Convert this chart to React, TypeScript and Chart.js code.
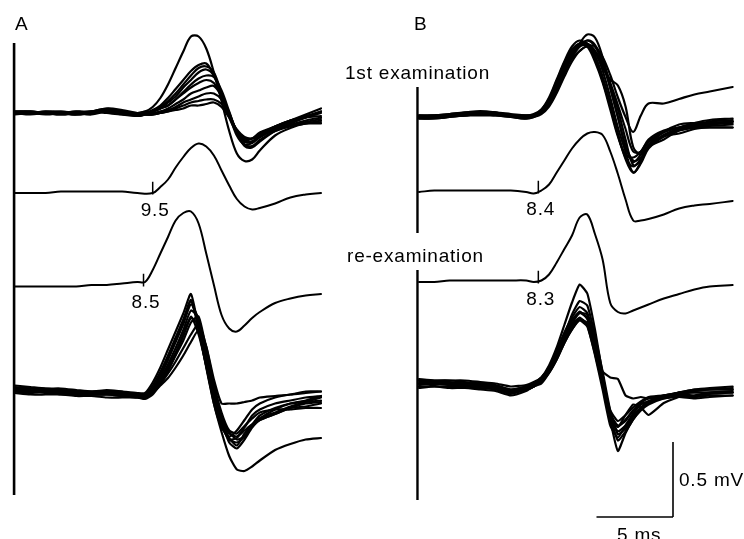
import React, { useEffect, useRef } from "react";
import { Chart, registerables } from "chart.js";

Chart.register(...registerables);

// ---------- canvas / calibration (layout) ----------
const W = 744;
const H = 539;
const PX_PER_MS = 15.3; // 5 ms scale bar ≈ 76 px
const PX_PER_MV = 150; // 0.5 mV scale bar ≈ 75 px

// ---------- time bases (ms from sweep start) ----------
const T_A = [0, 1, 2, 3, 4, 5, 6, 7, 8, 8.5, 9, 9.5, 10, 10.5, 11, 11.5, 12, 12.5, 13, 13.5, 14, 14.5, 15, 15.5, 16, 17, 18, 19, 20];
const T_A_AVG1 = [0, 1, 2, 3, 4, 5, 6, 7, 8, 9, 9.5, 10, 10.5, 11, 11.5, 12, 12.5, 13, 13.5, 14, 14.5, 15, 15.5, 16, 17, 18, 19, 20];
const T_B = [0, 1, 2, 3, 4, 5, 6, 7, 7.5, 8, 8.5, 9, 9.5, 10, 10.5, 11, 11.5, 12, 12.5, 13, 13.5, 14, 14.5, 15, 16, 17, 18, 19, 20.5];

// ---------- Panel A: superimposed sweeps, 1st examination (mV) ----------
const A_FIRST_SWEEPS = [
  [0.01, 0.01, 0, 0, 0.01, 0.01, 0.02, 0.01, 0, 0.01, 0.04, 0.10, 0.19, 0.30, 0.41, 0.51, 0.51, 0.43, 0.27, 0.08, -0.12, -0.27, -0.32, -0.31, -0.25, -0.15, -0.10, -0.07, -0.06],
  [0, 0.01, 0, -0.01, 0, 0.01, 0.03, 0.01, -0.01, 0, 0.02, 0.05, 0.10, 0.16, 0.22, 0.28, 0.32, 0.33, 0.25, 0.11, -0.03, -0.13, -0.18, -0.17, -0.13, -0.09, -0.05, -0.01, 0.03],
  [0.01, 0, 0.01, 0, -0.01, 0.01, 0.03, 0.02, 0, 0.01, 0.01, 0.04, 0.08, 0.13, 0.19, 0.25, 0.30, 0.31, 0.27, 0.13, -0.01, -0.15, -0.21, -0.20, -0.16, -0.11, -0.07, -0.03, 0.01],
  [0, 0, -0.01, 0, 0.01, 0, 0.02, 0.01, -0.01, 0, 0.01, 0.03, 0.07, 0.11, 0.17, 0.22, 0.27, 0.29, 0.25, 0.13, 0, -0.12, -0.19, -0.19, -0.15, -0.10, -0.06, -0.03, 0],
  [-0.01, 0, 0.01, 0.01, 0, -0.01, 0.01, 0, -0.02, -0.01, 0.01, 0.03, 0.05, 0.09, 0.14, 0.19, 0.23, 0.25, 0.24, 0.15, 0.01, -0.13, -0.22, -0.23, -0.19, -0.12, -0.08, -0.05, -0.03],
  [0.01, 0.01, 0, -0.01, 0, 0.01, 0.01, 0.01, -0.01, 0, 0.01, 0.03, 0.05, 0.09, 0.13, 0.17, 0.20, 0.22, 0.20, 0.11, -0.02, -0.12, -0.17, -0.17, -0.14, -0.09, -0.05, -0.02, 0.01],
  [0, -0.01, 0, 0, 0.01, 0, 0.01, -0.01, -0.02, -0.01, 0, 0.01, 0.03, 0.06, 0.09, 0.13, 0.15, 0.17, 0.18, 0.11, -0.01, -0.13, -0.19, -0.19, -0.16, -0.11, -0.08, -0.06, -0.04],
  [0, 0, 0.01, 0, -0.01, 0, 0.01, 0, -0.01, -0.01, -0.01, 0.01, 0.02, 0.04, 0.07, 0.09, 0.11, 0.13, 0.13, 0.09, 0, -0.13, -0.21, -0.22, -0.18, -0.12, -0.09, -0.07, -0.05],
  [0.01, 0, 0, 0.01, 0, 0.01, 0, -0.01, -0.01, -0.01, -0.01, 0, 0.01, 0.03, 0.05, 0.07, 0.08, 0.09, 0.09, 0.06, -0.02, -0.12, -0.19, -0.19, -0.16, -0.09, -0.05, -0.03, -0.02],
  [0, 0.01, 0, 0, -0.01, 0, 0.01, 0, -0.01, -0.01, -0.01, 0, 0.01, 0.02, 0.03, 0.05, 0.05, 0.06, 0.07, 0.04, -0.03, -0.11, -0.16, -0.17, -0.15, -0.10, -0.08, -0.07, -0.07],
];

// ---------- Panel A: averaged responses (mV) ----------
const A_AVG_FIRST = [0, 0, 0, 0.01, 0.01, 0.01, 0.01, 0.01, 0, 0, 0.04, 0.09, 0.17, 0.24, 0.30, 0.33, 0.31, 0.25, 0.15, 0.05, -0.04, -0.09, -0.11, -0.10, -0.07, -0.03, -0.01, 0];
const A_AVG_RE = [-0.01, -0.01, -0.01, -0.01, -0.01, 0, 0, 0.01, 0.02, 0.02, 0.10, 0.21, 0.32, 0.43, 0.48, 0.49, 0.41, 0.21, 0, -0.20, -0.29, -0.31, -0.27, -0.22, -0.18, -0.12, -0.09, -0.07, -0.06];

// ---------- Panel A: superimposed sweeps, re-examination (mV) ----------
const A_RE_SWEEPS = [
  [0.03, 0.02, 0.01, 0.01, 0, -0.01, 0, -0.01, -0.02, -0.02, 0.05, 0.15, 0.27, 0.39, 0.51, 0.64, 0.41, 0.15, -0.09, -0.25, -0.31, -0.27, -0.20, -0.13, -0.09, -0.05, -0.03, -0.02, -0.01],
  [0.01, 0.01, 0.01, 0, -0.01, -0.01, -0.01, -0.02, -0.03, -0.03, 0.03, 0.12, 0.23, 0.35, 0.47, 0.60, 0.40, 0.16, -0.07, -0.23, -0.33, -0.32, -0.25, -0.17, -0.13, -0.09, -0.07, -0.05, -0.04],
  [0, -0.01, 0, -0.01, -0.02, -0.01, -0.02, -0.03, -0.03, -0.04, 0.01, 0.09, 0.20, 0.32, 0.44, 0.57, 0.47, 0.20, -0.05, -0.21, -0.35, -0.39, -0.33, -0.25, -0.20, -0.16, -0.12, -0.09, -0.08],
  [-0.01, -0.02, -0.01, -0.03, -0.03, -0.03, -0.03, -0.04, -0.05, -0.05, 0, 0.07, 0.17, 0.28, 0.40, 0.53, 0.48, 0.24, -0.01, -0.19, -0.32, -0.37, -0.29, -0.23, -0.17, -0.12, -0.09, -0.08, -0.07],
  [0.02, 0.01, 0, -0.01, -0.01, -0.02, -0.01, -0.01, -0.03, -0.03, 0, 0.05, 0.13, 0.23, 0.33, 0.45, 0.49, 0.27, 0.01, -0.17, -0.28, -0.33, -0.31, -0.24, -0.19, -0.15, -0.11, -0.08, -0.05],
  [0.01, 0, -0.01, -0.01, -0.02, -0.03, -0.03, -0.03, -0.04, -0.05, -0.01, 0.04, 0.11, 0.19, 0.28, 0.37, 0.44, 0.29, 0.04, -0.15, -0.27, -0.29, -0.24, -0.19, -0.15, -0.13, -0.13, -0.12, -0.12],
  [-0.01, -0.01, -0.02, -0.02, -0.03, -0.03, -0.03, -0.04, -0.05, -0.05, -0.02, 0.03, 0.08, 0.15, 0.23, 0.32, 0.40, 0.29, 0.07, -0.09, -0.09, -0.09, -0.08, -0.07, -0.05, -0.04, -0.03, -0.01, -0.01],
  [0, -0.01, -0.01, -0.02, -0.03, -0.03, -0.02, -0.03, -0.03, -0.04, -0.01, 0.05, 0.15, 0.25, 0.37, 0.49, 0.37, 0.16, -0.09, -0.28, -0.44, -0.53, -0.54, -0.51, -0.47, -0.40, -0.36, -0.33, -0.32],
  [0.01, 0.01, 0, 0, -0.01, -0.02, -0.01, -0.02, -0.03, -0.04, 0.01, 0.10, 0.21, 0.33, 0.45, 0.59, 0.44, 0.19, -0.07, -0.24, -0.33, -0.35, -0.31, -0.24, -0.19, -0.13, -0.09, -0.07, -0.04],
  [-0.02, -0.03, -0.03, -0.03, -0.04, -0.04, -0.05, -0.05, -0.05, -0.06, -0.03, 0.04, 0.13, 0.24, 0.36, 0.48, 0.43, 0.20, -0.04, -0.20, -0.29, -0.31, -0.27, -0.23, -0.20, -0.16, -0.12, -0.11, -0.09],
];

// ---------- Panel B: superimposed sweeps, 1st examination (mV) ----------
const B_FIRST_SWEEPS = [
  [0, 0.01, 0.01, 0.02, 0.03, 0.02, 0.01, 0, 0.01, 0.03, 0.08, 0.19, 0.31, 0.41, 0.49, 0.55, 0.53, 0.40, 0.20, 0, -0.20, -0.30, -0.25, -0.17, -0.10, -0.07, -0.05, -0.03, -0.02],
  [0.01, 0.01, 0.02, 0.03, 0.04, 0.03, 0.01, 0.01, 0.02, 0.05, 0.13, 0.25, 0.37, 0.47, 0.51, 0.48, 0.39, 0.24, 0.07, -0.12, -0.27, -0.33, -0.28, -0.20, -0.12, -0.08, -0.06, -0.05, -0.04],
  [-0.01, -0.01, 0, 0.01, 0.02, 0.01, 0, -0.01, 0.01, 0.04, 0.11, 0.21, 0.33, 0.43, 0.48, 0.49, 0.44, 0.31, 0.13, -0.07, -0.23, -0.37, -0.30, -0.19, -0.10, -0.05, -0.04, -0.04, -0.03],
  [0.01, 0.01, 0.02, 0.03, 0.03, 0.03, 0.01, 0.01, 0.01, 0.03, 0.09, 0.20, 0.32, 0.41, 0.47, 0.48, 0.47, 0.40, 0.28, 0.13, 0, -0.10, 0.01, 0.09, 0.09, 0.12, 0.15, 0.17, 0.20],
  [0, 0, 0.01, 0.02, 0.03, 0.02, 0.01, 0, 0.01, 0.03, 0.08, 0.17, 0.29, 0.39, 0.44, 0.47, 0.43, 0.33, 0.25, 0.21, 0.07, -0.20, -0.25, -0.19, -0.12, -0.08, -0.06, -0.05, -0.03],
  [0.01, 0, 0.01, 0.02, 0.03, 0.03, 0.02, 0.01, 0.01, 0.04, 0.11, 0.23, 0.35, 0.44, 0.49, 0.49, 0.41, 0.27, 0.09, -0.11, -0.28, -0.37, -0.31, -0.21, -0.13, -0.09, -0.07, -0.06, -0.05],
  [-0.01, -0.01, 0, 0.01, 0.01, 0.01, 0, -0.01, 0, 0.02, 0.07, 0.16, 0.27, 0.37, 0.44, 0.47, 0.44, 0.35, 0.21, 0.05, -0.15, -0.32, -0.29, -0.20, -0.13, -0.11, -0.08, -0.07, -0.07],
  [0.01, 0.01, 0.01, 0.03, 0.03, 0.03, 0.01, 0, 0.01, 0.05, 0.12, 0.24, 0.36, 0.45, 0.49, 0.47, 0.37, 0.23, 0.05, -0.13, -0.25, -0.27, -0.23, -0.16, -0.10, -0.07, -0.04, -0.02, -0.01],
  [0, 0.01, 0.01, 0.01, 0.02, 0.02, 0.01, 0.01, 0.01, 0.03, 0.10, 0.20, 0.32, 0.43, 0.48, 0.51, 0.47, 0.36, 0.19, 0, -0.19, -0.29, -0.27, -0.20, -0.15, -0.09, -0.07, -0.07, -0.07],
  [-0.01, 0, 0.01, 0.01, 0.03, 0.02, 0.01, -0.01, 0, 0.03, 0.09, 0.20, 0.31, 0.40, 0.47, 0.51, 0.48, 0.37, 0.23, 0.08, -0.08, -0.23, -0.23, -0.15, -0.09, -0.07, -0.05, -0.04, -0.03],
];

// ---------- Panel B: averaged responses (mV) ----------
const B_AVG_FIRST = [0, 0.01, 0.01, 0.01, 0.01, 0.01, 0.01, 0, -0.01, 0.01, 0.05, 0.13, 0.21, 0.29, 0.35, 0.39, 0.40, 0.38, 0.27, 0.12, -0.05, -0.19, -0.19, -0.18, -0.15, -0.11, -0.09, -0.08, -0.06];
const B_AVG_RE = [0, 0, 0.01, 0.01, 0.01, 0.01, 0.01, 0.01, 0, 0.01, 0.05, 0.13, 0.22, 0.31, 0.43, 0.45, 0.32, 0.15, -0.14, -0.20, -0.21, -0.19, -0.17, -0.15, -0.11, -0.08, -0.05, -0.03, -0.02];

// ---------- Panel B: superimposed sweeps, re-examination (mV) ----------
const B_RE_SWEEPS = [
  [0.03, 0.03, 0.03, 0.02, 0.01, 0, -0.03, -0.01, 0.01, 0.05, 0.13, 0.25, 0.40, 0.55, 0.67, 0.61, 0.37, 0.07, -0.23, -0.44, -0.32, -0.23, -0.17, -0.13, -0.09, -0.07, -0.04, -0.03, -0.02],
  [0.02, 0.02, 0.01, 0.01, 0.01, -0.01, -0.04, -0.02, 0, 0.04, 0.11, 0.21, 0.33, 0.47, 0.56, 0.53, 0.33, 0.09, -0.17, -0.33, -0.29, -0.21, -0.16, -0.12, -0.08, -0.05, -0.04, -0.03, -0.03],
  [0, 0.01, 0, -0.01, -0.01, -0.02, -0.05, -0.03, -0.01, 0.03, 0.09, 0.20, 0.32, 0.43, 0.49, 0.44, 0.24, 0, -0.20, -0.27, -0.24, -0.17, -0.12, -0.09, -0.07, -0.05, -0.05, -0.05, -0.05],
  [-0.02, -0.01, -0.02, -0.02, -0.03, -0.04, -0.07, -0.04, -0.01, 0.01, 0.08, 0.17, 0.28, 0.37, 0.44, 0.41, 0.24, 0.03, -0.17, -0.24, -0.20, -0.15, -0.11, -0.08, -0.07, -0.07, -0.08, -0.07, -0.07],
  [0.04, 0.03, 0.03, 0.03, 0.02, 0.01, -0.01, 0, 0.02, 0.05, 0.11, 0.20, 0.31, 0.40, 0.45, 0.40, 0.20, -0.03, -0.27, -0.35, -0.27, -0.19, -0.13, -0.11, -0.09, -0.08, -0.09, -0.08, -0.07],
  [0.01, 0.01, 0.01, 0.01, 0, -0.01, -0.04, -0.02, 0.01, 0.04, 0.11, 0.21, 0.33, 0.43, 0.48, 0.47, 0.27, 0.09, 0.05, 0.04, -0.07, -0.09, -0.08, -0.09, -0.07, -0.05, -0.03, -0.02, -0.01],
  [0.01, 0, 0.01, 0, -0.01, -0.02, -0.05, -0.03, -0.01, 0.03, 0.09, 0.19, 0.29, 0.39, 0.44, 0.41, 0.24, 0.07, -0.20, -0.28, -0.20, -0.13, -0.15, -0.20, -0.12, -0.08, -0.07, -0.05, -0.05],
  [-0.01, -0.01, -0.01, -0.01, -0.02, -0.03, -0.06, -0.03, -0.01, 0.02, 0.08, 0.17, 0.28, 0.37, 0.43, 0.39, 0.21, 0, -0.19, -0.28, -0.23, -0.17, -0.13, -0.11, -0.08, -0.06, -0.05, -0.05, -0.04],
  [0.03, 0.02, 0.02, 0.01, 0.01, -0.01, -0.03, -0.01, 0.01, 0.05, 0.12, 0.23, 0.35, 0.45, 0.52, 0.48, 0.29, 0.05, -0.20, -0.37, -0.31, -0.23, -0.16, -0.11, -0.08, -0.05, -0.03, -0.03, -0.03],
  [0.01, 0.01, 0, 0, -0.01, -0.02, -0.05, -0.03, 0, 0.03, 0.11, 0.20, 0.31, 0.41, 0.48, 0.45, 0.27, 0.03, -0.21, -0.31, -0.27, -0.20, -0.15, -0.11, -0.07, -0.06, -0.07, -0.06, -0.05],
];

// ---------- onset latencies (label text + tick time in ms on sweep) ----------
const LATENCY_LABELS = ["9.5", "8.5", "8.4", "8.3"];
const LATENCY_TICK_TIMES = [9.0, 8.4, 7.8, 7.8];

// ---------- texts ----------
const PANEL_LABELS = ["A", "B"];
const SESSION_LABELS = ["1st examination", "re-examination"];
const SCALE_LABELS = ["0.5 mV", "5 ms"];
const SCALE_BAR_MS = 5;
const SCALE_BAR_MV = 0.5;

// ---------- layout (positions in chart units) ----------
const X_MAX = W / PX_PER_MS;
const Y_MAX = H / PX_PER_MV;
const pxX = (px: number) => px / PX_PER_MS; // pixel column -> ms on shared axis
const pxY = (px: number) => (H - px) / PX_PER_MV; // pixel row -> mV on shared axis

const ORIGIN_A = pxX(15);
const ORIGIN_B = pxX(419);
const BASE = {
  aFirst: pxY(113),
  aAvgFirst: pxY(193),
  aAvgRe: pxY(285),
  aRe: pxY(390),
  bFirst: pxY(117),
  bAvgFirst: pxY(192),
  bAvgRe: pxY(282),
  bRe: pxY(385),
};

const INK = "#000";

function traceDs(times: number[], vals: number[], x0: number, y0: number, width: number, tension: number) {
  return {
    data: times.map((t, i) => ({ x: x0 + t, y: y0 + vals[i] })),
    borderColor: INK,
    borderWidth: width,
    pointRadius: 0,
    tension,
    fill: false,
    borderCapStyle: "round",
    borderJoinStyle: "round",
  };
}

function segDs(x1: number, y1: number, x2: number, y2: number, width: number) {
  return {
    data: [
      { x: x1, y: y1 },
      { x: x2, y: y2 },
    ],
    borderColor: INK,
    borderWidth: width,
    pointRadius: 0,
    tension: 0,
    fill: false,
    borderCapStyle: "butt",
  };
}

function buildDatasets() {
  const ds: any[] = [];
  // panel axes (vertical rules)
  ds.push(segDs(ORIGIN_A - 0.06, pxY(495), ORIGIN_A - 0.06, pxY(43), 2.6));
  ds.push(segDs(ORIGIN_B - 0.1, pxY(233), ORIGIN_B - 0.1, pxY(87), 2.4));
  ds.push(segDs(ORIGIN_B - 0.1, pxY(500), ORIGIN_B - 0.1, pxY(270), 2.4));

  A_FIRST_SWEEPS.forEach((v) => ds.push(traceDs(T_A, v, ORIGIN_A, BASE.aFirst, 2.2, 0.35)));
  A_RE_SWEEPS.forEach((v) => ds.push(traceDs(T_A, v, ORIGIN_A, BASE.aRe, 2.2, 0.2)));
  ds.push(traceDs(T_A_AVG1, A_AVG_FIRST, ORIGIN_A, BASE.aAvgFirst, 2, 0.4));
  ds.push(traceDs(T_A, A_AVG_RE, ORIGIN_A, BASE.aAvgRe, 2, 0.35));

  B_FIRST_SWEEPS.forEach((v) => ds.push(traceDs(T_B, v, ORIGIN_B, BASE.bFirst, 2.2, 0.35)));
  B_RE_SWEEPS.forEach((v) => ds.push(traceDs(T_B, v, ORIGIN_B, BASE.bRe, 2.2, 0.15)));
  ds.push(traceDs(T_B, B_AVG_FIRST, ORIGIN_B, BASE.bAvgFirst, 2, 0.4));
  ds.push(traceDs(T_B, B_AVG_RE, ORIGIN_B, BASE.bAvgRe, 2, 0.35));

  // onset ticks
  const tickBases = [
    [ORIGIN_A, BASE.aAvgFirst],
    [ORIGIN_A, BASE.aAvgRe],
    [ORIGIN_B, BASE.bAvgFirst],
    [ORIGIN_B, BASE.bAvgRe],
  ];
  LATENCY_TICK_TIMES.forEach((t, i) => {
    const [x0, y0] = tickBases[i];
    ds.push(segDs(x0 + t, y0 - 0.01, x0 + t, y0 + 0.075, 1.5));
  });

  // scale bar (corner at bottom right)
  const cx = pxX(673);
  const cy = pxY(517);
  ds.push(segDs(cx - SCALE_BAR_MS, cy, cx, cy, 1.6));
  ds.push(segDs(cx, cy, cx, cy + SCALE_BAR_MV, 1.6));
  return ds;
}

const textPlugin = {
  id: "figureText",
  afterDatasetsDraw(chart: any) {
    const { ctx } = chart;
    const xs = chart.scales.x;
    const ys = chart.scales.y;
    ctx.save();
    ctx.fillStyle = INK;
    ctx.textBaseline = "alphabetic";
    ctx.textAlign = "left";
    ctx.font = '19px "Liberation Sans", Arial, Helvetica, sans-serif';
    try {
      (ctx as any).letterSpacing = "0.8px";
    } catch (e) {}
    // panel letters
    ctx.fillText(PANEL_LABELS[0], 15, 30);
    ctx.fillText(PANEL_LABELS[1], 414, 30);
    // session labels
    ctx.fillText(SESSION_LABELS[0], 345, 79);
    ctx.fillText(SESSION_LABELS[1], 347, 262);
    // latency labels under the ticks
    const tickBases = [
      [ORIGIN_A, BASE.aAvgFirst],
      [ORIGIN_A, BASE.aAvgRe],
      [ORIGIN_B, BASE.bAvgFirst],
      [ORIGIN_B, BASE.bAvgRe],
    ];
    LATENCY_LABELS.forEach((lab, i) => {
      const px = xs.getPixelForValue(tickBases[i][0] + LATENCY_TICK_TIMES[i]);
      const py = ys.getPixelForValue(tickBases[i][1]);
      ctx.fillText(lab, px - 12, py + 23);
    });
    // scale labels
    ctx.fillText(SCALE_LABELS[0], 679, 486);
    ctx.fillText(SCALE_LABELS[1], 617, 541);
    ctx.restore();
  },
};

export default function App() {
  const ref = useRef<HTMLCanvasElement | null>(null);
  useEffect(() => {
    if (!ref.current) return;
    const chart = new Chart(ref.current, {
      type: "line",
      data: { datasets: buildDatasets() },
      options: {
        animation: false,
        responsive: false,
        devicePixelRatio: 1,
        events: [],
        layout: { padding: 0 },
        plugins: { legend: { display: false }, tooltip: { enabled: false }, title: { display: false } },
        scales: {
          x: { type: "linear", min: 0, max: X_MAX, display: false },
          y: { type: "linear", min: 0, max: Y_MAX, display: false },
        },
      } as any,
      plugins: [textPlugin],
    });
    return () => chart.destroy();
  }, []);
  return (
    <div style={{ position: "absolute", left: 0, top: 0, width: W, height: H, background: "#fff" }}>
      <canvas ref={ref} width={W} height={H} style={{ display: "block" }} />
    </div>
  );
}
